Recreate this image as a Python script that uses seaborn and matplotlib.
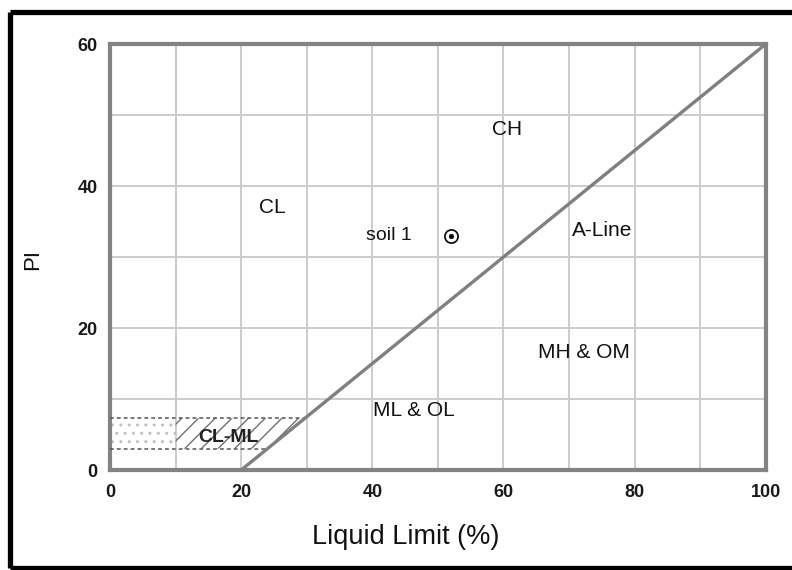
import numpy as np
import matplotlib
matplotlib.use("Agg")
import matplotlib.pyplot as plt
import seaborn as sns
import pandas as pd
from matplotlib.lines import Line2D
from matplotlib.patches import Polygon

# A-line (liquid limit %, plasticity index)
aline_ll = [20, 100]
aline_pi = [0, 60]

# CL-ML band limits (plasticity index) and start of the hatched part
clml_pi = [3.0, 7.3]
clml_ll_start = 10

# tested sample
soil_names = ["soil 1"]
soil_ll = [52]
soil_pi = [33]

# zone annotations
zone_names = ["CL", "CH", "A-Line", "MH & OM", "ML & OL"]
zone_ll = [24.8, 60.5, 75.1, 72.3, 46.4]
zone_pi = [37.0, 48.0, 33.8, 16.5, 8.45]
clml_label = "CL-ML"
clml_label_ll = 18.0
clml_label_pi = 4.6

x_ticks = [0, 20, 40, 60, 80, 100]
y_ticks = [0, 20, 40, 60]

sns.set_theme(style="white")
plt.rcParams["font.family"] = ["Liberation Sans", "DejaVu Sans"]
plt.rcParams["hatch.linewidth"] = 1.0

fig = plt.figure(figsize=(7.92, 5.70), dpi=100)
fig.patch.set_facecolor("white")
ax = fig.add_axes([0.1389, 0.1754, 0.828, 0.7474])
ax.set_facecolor("white")

ax.set_xlim(0, 100)
ax.set_ylim(0, 60)
ax.set_xticks(x_ticks)
ax.set_yticks(y_ticks)
ax.set_xticks(np.arange(0, 101, 10), minor=True)
ax.set_yticks(np.arange(0, 61, 10), minor=True)
ax.grid(which="both", color="#cccccc", lw=1.4, zorder=0)
ax.set_axisbelow(True)
ax.tick_params(which="both", length=0)
ax.tick_params(axis="x", pad=10, labelsize=13, labelcolor="#1a1a1a")
ax.tick_params(axis="y", pad=9, labelsize=13, labelcolor="#1a1a1a")
for lab in ax.get_xticklabels() + ax.get_yticklabels():
    lab.set_fontweight("bold")

for sp in ax.spines.values():
    sp.set_visible(True)
    sp.set_color("#838383")
    sp.set_linewidth(3.0)

# A-line
sns.lineplot(x=aline_ll, y=aline_pi, ax=ax, color="#808080", lw=2.4,
             legend=False, zorder=4)

# CL-ML band: dotted part, hatched part and dashed limits
lo, hi = clml_pi
ll_lo, ll_hi = np.interp(clml_pi, aline_pi, aline_ll)
ax.add_patch(Polygon([(0, lo), (clml_ll_start, lo), (clml_ll_start, hi), (0, hi)],
                     closed=True, facecolor="none", edgecolor="#c0c0c0",
                     hatch="..", lw=0, zorder=2))
ax.add_patch(Polygon([(clml_ll_start, lo), (ll_lo, lo), (ll_hi, hi), (clml_ll_start, hi)],
                     closed=True, facecolor="none", edgecolor="#707070",
                     hatch="//", lw=0, zorder=2))
for pi_lim, ll_end in zip(clml_pi, [ll_lo, ll_hi]):
    ax.plot([0, ll_end], [pi_lim, pi_lim], color="#555555", lw=1.1,
            ls=(0, (2.5, 2)), zorder=3)

# sample point
soil_df = pd.DataFrame({"LL": soil_ll, "PI": soil_pi, "name": soil_names})
sns.scatterplot(data=soil_df, x="LL", y="PI", ax=ax, marker="o", s=90,
                facecolor="white", edgecolor="black", linewidth=1.2, zorder=5)
sns.scatterplot(data=soil_df, x="LL", y="PI", ax=ax, marker="o", s=12,
                color="black", edgecolor="black", zorder=6)
for name, x, y in zip(soil_names, soil_ll, soil_pi):
    ax.text(x - 6, y, name, ha="right", va="center", fontsize=14, color="#111111")

for name, x, y in zip(zone_names, zone_ll, zone_pi):
    ax.text(x, y, name, ha="center", va="center", fontsize=15, color="#111111")
ax.text(clml_label_ll, clml_label_pi, clml_label, ha="center", va="center",
        fontsize=14, fontweight="bold", color="#222222", zorder=6)

ax.set_xlabel("Liquid Limit (%)", fontsize=19.5, color="#111111")
ax.set_ylabel("PI", fontsize=16, color="#111111")
ax.xaxis.set_label_coords(0.451, -0.126)
ax.yaxis.set_label_coords(-0.102, 0.493)

# heavy outer frame on top, left and bottom
frame_kw = dict(color="black", lw=3.8, transform=fig.transFigure, solid_capstyle="butt")
fig.add_artist(Line2D([0.0125, 1.0], [0.979, 0.979], **frame_kw))
fig.add_artist(Line2D([0.0125, 0.0125], [0.004, 0.979], **frame_kw))
fig.add_artist(Line2D([0.0125, 1.0], [0.004, 0.004], **frame_kw))

fig.savefig("out.png", dpi=100, facecolor="white")
